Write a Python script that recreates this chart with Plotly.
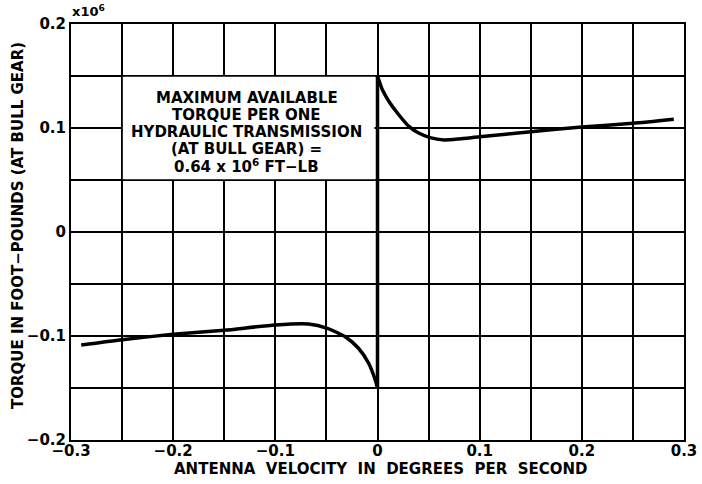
import plotly.graph_objects as go

# Negative-velocity branch (deg/s) and torque (x10^6 ft-lb)
neg_x = [-0.29, -0.25, -0.2, -0.15, -0.1, -0.0675, -0.049, -0.0316, -0.0186, -0.0088, -0.0023, 0.0]
neg_y = [-0.1087, -0.1035, -0.0984, -0.0945, -0.0894, -0.0885, -0.0926, -0.1007, -0.1118, -0.126, -0.142, -0.15]

# Positive-velocity branch
pos_x = [0.0, 0.0049, 0.0114, 0.021, 0.031, 0.0408, 0.0515, 0.065, 0.08, 0.1, 0.15, 0.2, 0.25, 0.29]
pos_y = [0.15, 0.1365, 0.1253, 0.1125, 0.1013, 0.0949, 0.0907, 0.0885, 0.0895, 0.0916, 0.0963, 0.101, 0.1045, 0.1084]

# Jump at zero velocity
jump_x = [0.0, 0.0]
jump_y = [-0.15, 0.15]

x_ticks = [-0.3, -0.2, -0.1, 0, 0.1, 0.2, 0.3]
x_ticklabels = ["\u22120.3", "\u22120.2", "\u22120.1", "0", "0.1", "0.2", "0.3"]
y_ticks = [-0.2, -0.1, 0, 0.1, 0.2]
y_ticklabels = ["\u22120.2", "\u22120.1", "0", "0.1", "0.2"]

box_lines = ["MAXIMUM AVAILABLE", "TORQUE PER ONE", "HYDRAULIC TRANSMISSION",
             "(AT BULL GEAR) =", "0.64 x 10<sup>6</sup> FT\u2212LB"]

x_title = "ANTENNA\u00a0 VELOCITY\u00a0 IN\u00a0 DEGREES\u00a0 PER\u00a0 SECOND"
y_title = "TORQUE IN FOOT\u2212POUNDS (AT BULL GEAR)"

FONT = "DejaVu Sans"
BOLD = dict(family=FONT, size=15, color="black", weight="bold")

fig = go.Figure()
line_style = dict(color="black", width=3.5)
fig.add_trace(go.Scatter(x=neg_x, y=neg_y, mode="lines", line=dict(shape="spline", smoothing=0.6, **line_style)))
fig.add_trace(go.Scatter(x=pos_x, y=pos_y, mode="lines", line=dict(shape="spline", smoothing=0.6, **line_style)))
fig.add_trace(go.Scatter(x=jump_x, y=jump_y, mode="lines", line=line_style))

fig.add_shape(type="rect", xref="x", yref="y", x0=-0.25, x1=-0.003, y0=0.05, y1=0.15,
              fillcolor="white", line=dict(width=0), layer="above")
for (a0, a1, b0, b1) in [(-0.25, -0.003, 0.15, 0.15), (-0.25, -0.003, 0.05, 0.05), (-0.25, -0.25, 0.05, 0.15)]:
    fig.add_shape(type="line", xref="x", yref="y", x0=a0, x1=a1, y0=b0, y1=b1,
                  line=dict(color="black", width=1.5), layer="above")

for i, line in enumerate(box_lines):
    fig.add_annotation(x=-0.128, y=0.1291 - i * 0.0163, xref="x", yref="y", text=line,
                       showarrow=False, font=BOLD, align="center",
                       xanchor="center", yanchor="middle")

fig.add_annotation(x=0, y=1, xref="paper", yref="paper", text="x10<sup>6</sup>",
                   showarrow=False, xanchor="left", yanchor="bottom", yshift=3, xshift=-1,
                   font=dict(family=FONT, size=13, color="black", weight="bold"))

fig.add_annotation(x=0.5, y=0, xref="paper", yref="paper", text=x_title, showarrow=False,
                   xanchor="center", yanchor="middle", yshift=-29, xshift=3, font=BOLD)
fig.add_annotation(x=0, y=0.5, xref="paper", yref="paper", text=y_title, showarrow=False,
                   textangle=-90, xanchor="center", yanchor="middle", xshift=-53, yshift=6,
                   font=BOLD)

axis_common = dict(showline=True, linecolor="black", linewidth=2, mirror=True,
                   showgrid=True, gridcolor="black", gridwidth=1.5, automargin=False,
                   zeroline=False, ticks="", ticklen=0, tickfont=BOLD)

fig.update_xaxes(range=[-0.3, 0.3], tickvals=x_ticks, ticktext=x_ticklabels,
                 ticklabelstandoff=-4,
                 minor=dict(dtick=0.05, tick0=0, showgrid=True, gridcolor="black", gridwidth=1.5),
                 **axis_common)
fig.update_yaxes(range=[-0.2, 0.2], tickvals=y_ticks, ticktext=y_ticklabels,
                 minor=dict(dtick=0.05, tick0=0, showgrid=True, gridcolor="black", gridwidth=1.5),
                 **axis_common)

fig.update_layout(width=702, height=484, showlegend=False,
                  plot_bgcolor="white", paper_bgcolor="white",
                  margin=dict(l=71, r=18, t=24, b=44),
                  font=dict(family=FONT, color="black"))

fig.write_html("out.html", config={"displayModeBar": False},
               post_script="document.body.style.margin='0';")
